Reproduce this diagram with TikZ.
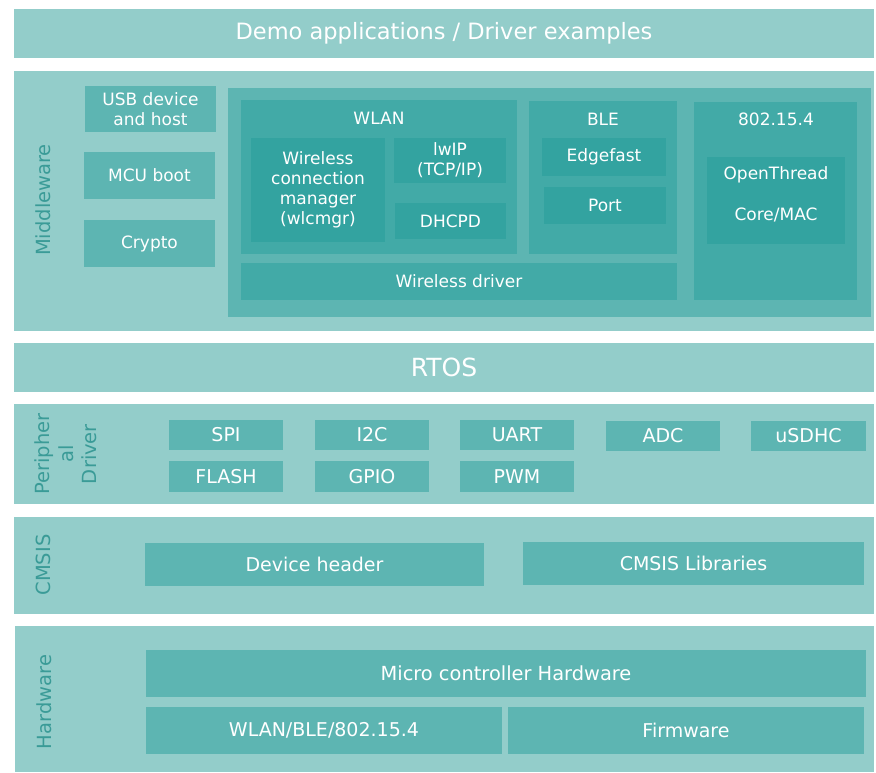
\documentclass[tikz,border=0pt]{standalone}
\usepackage{fontspec}
\setmainfont{DejaVu Sans}
\definecolor{bandc}{HTML}{93CDCA}
\definecolor{boxc}{HTML}{5DB5B2}
\definecolor{subc}{HTML}{42AAA7}
\definecolor{innerc}{HTML}{33A3A0}
\definecolor{sidec}{HTML}{3A9B97}
\tikzset{
  blk/.style={anchor=north west, inner sep=0pt, outer sep=0pt, draw=none, text=white, align=center},
  band/.style={blk, fill=bandc},
  lbox/.style={blk, fill=boxc},
  sbox/.style={blk, fill=subc},
  ibox/.style={blk, fill=innerc},
  big/.style={font=\fontsize{22.5}{26}\selectfont},
  med/.style={font=\fontsize{19}{22}\selectfont},
  sml/.style={font=\fontsize{17}{20}\selectfont},
  side/.style={text=sidec, rotate=90, align=center, inner sep=0pt, font=\fontsize{19.5}{23.5}\selectfont},
  lbl/.style={text=white, inner sep=0pt, font=\fontsize{17}{20}\selectfont}
}
\begin{document}
\begin{tikzpicture}[x=1pt,y=-1pt]
\useasboundingbox (0,0) rectangle (876,773);
% Demo
\node[band, big, minimum width=860, minimum height=49] (demo) at (14,9) {Demo applications / Driver examples};
% Middleware
\node[band, minimum width=860, minimum height=260] (mw) at (14,71) {};
\node[side] (mwl) at (43,200) {Middleware};
\node[lbox, sml, minimum width=131, minimum height=46] (usb) at (85,86) {USB device\\and host};
\node[lbox, sml, minimum width=131, minimum height=47] (mcu) at (84,152) {MCU boot};
\node[lbox, sml, minimum width=131, minimum height=47] (crypto) at (84,220) {Crypto};
\node[lbox, minimum width=643, minimum height=229] (cont) at (228,88) {};
\node[sbox, minimum width=276, minimum height=154] (wlan) at (241,100) {};
\node[lbl] (wlanl) at (379,118) {WLAN};
\node[ibox, sml, minimum width=134, minimum height=104] (wcm) at (251,138) {Wireless\\connection\\manager\\(wlcmgr)};
\node[ibox, sml, minimum width=112, minimum height=45] (lwip) at (394,138) {lwIP\\(TCP/IP)};
\node[ibox, sml, minimum width=111, minimum height=36] (dhcpd) at (395,203) {DHCPD};
\node[sbox, sml, minimum width=436, minimum height=37] (wdrv) at (241,263) {Wireless driver};
\node[sbox, minimum width=148, minimum height=153] (ble) at (529,101) {};
\node[lbl] (blel) at (603,119) {BLE};
\node[ibox, sml, minimum width=124, minimum height=38] (edge) at (542,138) {Edgefast};
\node[ibox, sml, minimum width=122, minimum height=37] (port) at (544,187) {Port};
\node[sbox, minimum width=163, minimum height=198] (ieee) at (694,102) {};
\node[lbl] (ieeel) at (776,119) {802.15.4};
\node[ibox, minimum width=138, minimum height=87] (ot) at (707,157) {};
\node[lbl] (otl1) at (776,175) {OpenThread};
\node[lbl] (otl2) at (776,215) {Core/MAC};
% RTOS
\node[band, font=\fontsize{25}{28}\selectfont, minimum width=860, minimum height=49] (rtos) at (14,343) {RTOS};
% Peripheral
\node[band, minimum width=860, minimum height=100] (per) at (14,404) {};
\node[side] (perl) at (66,454) {Peripher\\al\\Driver};
\node[lbox, med, minimum width=114, minimum height=30] (spi) at (169,420) {SPI};
\node[lbox, med, minimum width=114, minimum height=31] (flash) at (169,461) {FLASH};
\node[lbox, med, minimum width=114, minimum height=30] (i2c) at (315,420) {I2C};
\node[lbox, med, minimum width=114, minimum height=31] (gpio) at (315,461) {GPIO};
\node[lbox, med, minimum width=114, minimum height=30] (uart) at (460,420) {UART};
\node[lbox, med, minimum width=114, minimum height=31] (pwm) at (460,461) {PWM};
\node[lbox, med, minimum width=114, minimum height=30] (adc) at (606,421) {ADC};
\node[lbox, med, minimum width=115, minimum height=30] (usdhc) at (751,421) {uSDHC};
% CMSIS
\node[band, minimum width=860, minimum height=97] (cmsis) at (14,517) {};
\node[side] (cmsisl) at (43,565) {CMSIS};
\node[lbox, med, minimum width=339, minimum height=43] (devh) at (145,543) {Device header};
\node[lbox, med, minimum width=341, minimum height=43] (clib) at (523,542) {CMSIS Libraries};
% Hardware
\node[band, minimum width=859, minimum height=146] (hw) at (15,626) {};
\node[side] (hwl) at (44,702) {Hardware};
\node[lbox, font=\fontsize{19.4}{22}\selectfont, minimum width=720, minimum height=47] (mch) at (146,650) {Micro controller Hardware};
\node[lbox, med, minimum width=356, minimum height=47] (wbl) at (146,707) {WLAN/BLE/802.15.4};
\node[lbox, med, minimum width=356, minimum height=47] (fw) at (508,707) {Firmware};
\end{tikzpicture}
\end{document}
